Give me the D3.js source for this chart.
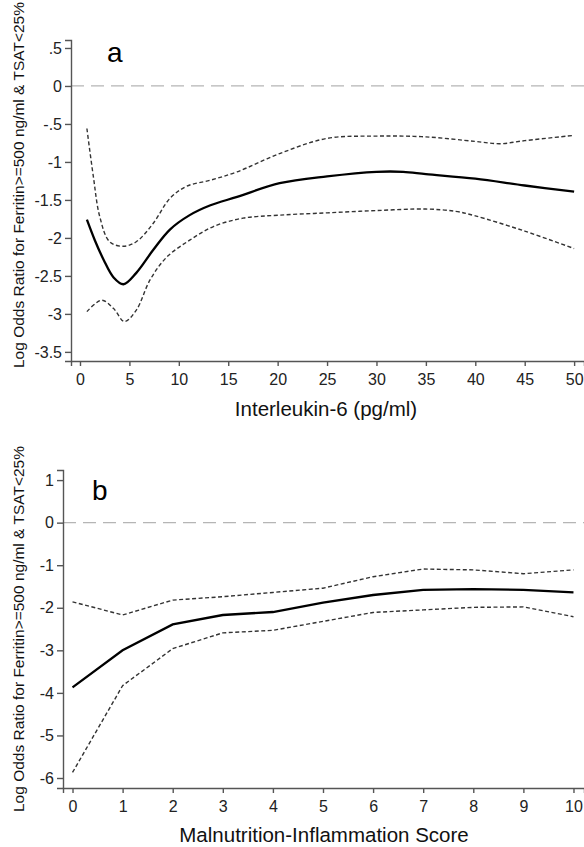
<!DOCTYPE html>
<html>
<head>
<meta charset="utf-8">
<script src="https://cdn.jsdelivr.net/npm/d3@7"></script>
<style>
  body { margin: 0; background: #fff; }
  svg { display: block; font-family: "Liberation Sans", Arial, sans-serif; }
  .axis path, .axis line { stroke: #555; stroke-width: 1.4; }
  .axis text { fill: #222; font-size: 16px; font-family: "Liberation Sans", Arial, sans-serif; }
</style>
</head>
<body>
<div id="chart"></div>
<script>
// panel a : Interleukin-6
var il6X     = [0.7, 1.5, 2.4, 3.4, 4.4, 5.7, 7.4, 9.1, 11.1, 13.2, 15.9, 20.2, 25, 30, 32.7, 35, 40, 45, 50];
var il6Fit   = [-1.76, -2.03, -2.29, -2.52, -2.61, -2.46, -2.16, -1.89, -1.70, -1.57, -1.46, -1.28, -1.19, -1.13, -1.13, -1.16, -1.22, -1.31, -1.39];
var il6UpX   = [0.7, 1.35, 2.0, 3.0, 4.4, 5.7, 7.4, 9.1, 10.8, 13.2, 15.9, 20.2, 25, 30, 35, 40, 42.5, 45, 50];
var il6Upper = [-0.56, -1.19, -1.72, -2.05, -2.11, -2.05, -1.81, -1.48, -1.32, -1.24, -1.13, -0.89, -0.69, -0.66, -0.67, -0.73, -0.76, -0.72, -0.65];
var il6LoX   = [0.7, 2.2, 3.4, 4.5, 5.7, 7.1, 8.8, 11.1, 13.5, 16.5, 20.2, 25, 30, 35, 38, 40, 45, 50];
var il6Lower = [-2.97, -2.82, -2.93, -3.10, -2.95, -2.55, -2.25, -2.03, -1.85, -1.74, -1.70, -1.67, -1.64, -1.62, -1.65, -1.71, -1.91, -2.14];
var il6XTicks = [0, 5, 10, 15, 20, 25, 30, 35, 40, 45, 50];
var il6YTicks = [0.5, 0, -0.5, -1, -1.5, -2, -2.5, -3, -3.5];
var il6YLabels = [".5", "0", "-.5", "-1", "-1.5", "-2", "-2.5", "-3", "-3.5"];

// panel b : Malnutrition-Inflammation Score
var misX     = [0, 1, 2, 3, 4, 5, 6, 7, 8, 9, 10];
var misFit   = [-3.87, -3.0, -2.39, -2.17, -2.10, -1.88, -1.70, -1.58, -1.56, -1.58, -1.64];
var misUpper = [-1.86, -2.17, -1.82, -1.74, -1.64, -1.54, -1.27, -1.09, -1.11, -1.20, -1.11];
var misLower = [-5.87, -3.83, -2.96, -2.59, -2.53, -2.32, -2.11, -2.05, -1.99, -1.98, -2.21];
var misYTicks = [1, 0, -1, -2, -3, -4, -5, -6];

var yTitle = "Log Odds Ratio for Ferritin>=500 ng/ml & TSAT<25%";

var W = 584, H = 847;
var svg = d3.select("#chart").append("svg")
    .attr("width", W)
    .attr("height", H);

function panel(opt) {
    var x = d3.scaleLinear().domain(opt.xDomain).range([opt.left, W]);
    var y = d3.scaleLinear().domain(opt.yDomain).range([opt.bottom, opt.top]);
    var g = svg.append("g");

    // reference line at 0
    g.append("line")
        .attr("x1", opt.left).attr("x2", W)
        .attr("y1", y(0)).attr("y2", y(0))
        .attr("stroke", "#b5b5b5")
        .attr("stroke-width", 1.2)
        .attr("stroke-dasharray", "13,7");

    var line = d3.line()
        .x(function(d) { return x(d[0]); })
        .y(function(d) { return y(d[1]); })
        .curve(opt.curve);

    opt.bands.forEach(function(b) {
        g.append("path")
            .datum(d3.zip(b[0], b[1]))
            .attr("d", line)
            .attr("fill", "none")
            .attr("stroke", "#333")
            .attr("stroke-width", 1.4)
            .attr("stroke-dasharray", "4,2.5");
    });

    g.append("path")
        .datum(d3.zip(opt.fit[0], opt.fit[1]))
        .attr("d", line)
        .attr("fill", "none")
        .attr("stroke", "#000")
        .attr("stroke-width", 2.3);

    // axes
    g.append("g")
        .attr("class", "axis")
        .attr("transform", "translate(0," + opt.bottom + ")")
        .call(d3.axisBottom(x).tickValues(opt.xTicks).tickSizeOuter(0).tickSize(5).tickPadding(8));

    g.append("g")
        .attr("class", "axis")
        .attr("transform", "translate(" + opt.left + ",0)")
        .call(d3.axisLeft(y).tickValues(opt.yTicks).tickSizeOuter(0).tickSize(6).tickPadding(3)
            .tickFormat(function(d, i) { return opt.yLabels ? opt.yLabels[i] : d; }));

    g.append("text")
        .text(opt.letter)
        .attr("x", opt.letterPos[0]).attr("y", opt.letterPos[1])
        .style("font-size", "28px");

    g.append("text")
        .text(opt.xTitle)
        .attr("x", opt.xTitlePos[0]).attr("y", opt.xTitlePos[1])
        .attr("text-anchor", "middle")
        .style("font-size", "20.5px")
        .attr("fill", "#111");

    g.append("text")
        .text(yTitle)
        .attr("transform", "translate(" + opt.yTitlePos[0] + "," + opt.yTitlePos[1] + "),rotate(-90)")
        .attr("text-anchor", "middle")
        .style("font-size", "15.5px")
        .attr("fill", "#111");
}

panel({
    left: 71, top: 40, bottom: 361,
    xDomain: [-0.91, 51.0], yDomain: [-3.62, 0.605],
    xTicks: il6XTicks, yTicks: il6YTicks, yLabels: il6YLabels,
    curve: d3.curveCatmullRom,
    fit: [il6X, il6Fit],
    bands: [[il6UpX, il6Upper], [il6LoX, il6Lower]],
    letter: "a", letterPos: [107, 62],
    xTitle: "Interleukin-6 (pg/ml)", xTitlePos: [326, 416],
    yTitlePos: [24, 185]
});

panel({
    left: 63, top: 470, bottom: 788,
    xDomain: [-0.19, 10.21], yDomain: [-6.235, 1.237],
    xTicks: misX, yTicks: misYTicks,
    curve: d3.curveLinear,
    fit: [misX, misFit],
    bands: [[misX, misUpper], [misX, misLower]],
    letter: "b", letterPos: [92, 500],
    xTitle: "Malnutrition-Inflammation Score", xTitlePos: [324, 842],
    yTitlePos: [24, 629]
});
</script>
</body>
</html>
